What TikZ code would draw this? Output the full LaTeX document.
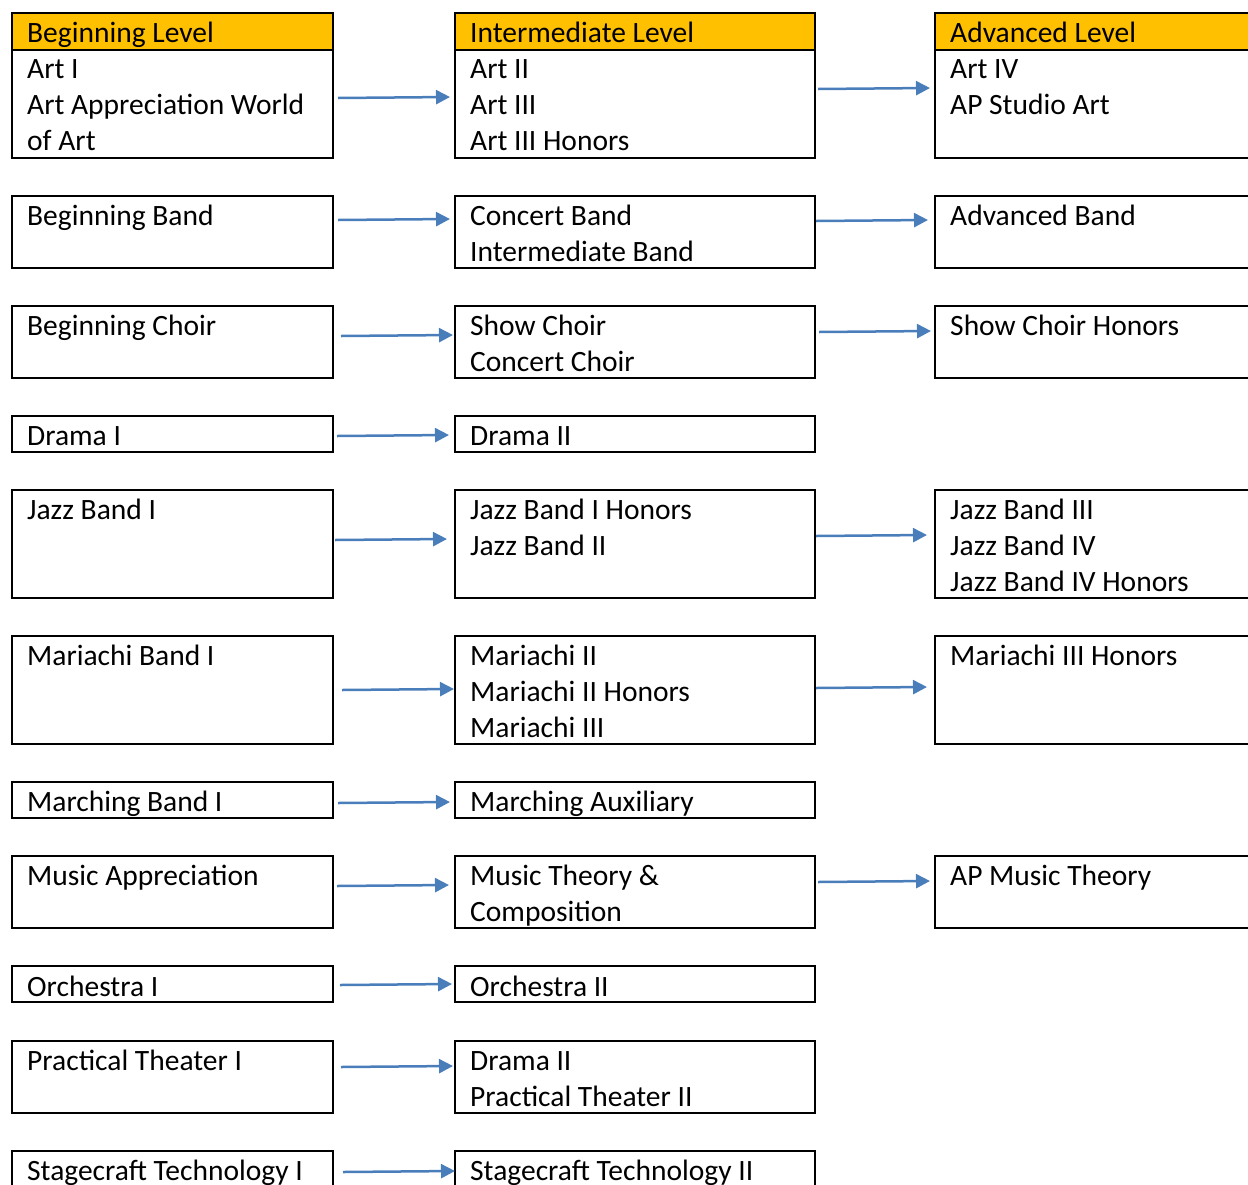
\documentclass[tikz,border=0pt]{standalone}
\usepackage{fontspec}
\setmainfont{Carlito}
\usetikzlibrary{arrows.meta}
\definecolor{hdr}{HTML}{FFC000}
\definecolor{arr}{HTML}{4A7EBB}
\newcommand\tline[4]{\node[txt] (#1) at (#2,#3) {#4};}
\newcommand\cbox[6][box]{\node[#1, minimum width=#5pt, minimum height=#6pt] (#2) at (#3,#4) {};}
\begin{document}
\begin{tikzpicture}[x=1pt,y=-1pt,
  box/.style={draw=black, line width=1.8pt, inner sep=0pt, outer sep=0pt, anchor=north west},
  hdrbox/.style={box, fill=hdr},
  txt/.style={anchor=base west, inner sep=0pt, font=\fontsize{29.5}{36}\selectfont},
  conn/.style={draw=arr, line width=2.5pt, -{Triangle[length=14pt,width=14pt]}}]
\useasboundingbox (0,0) rectangle (1248,1184);
\clip (0,0) rectangle (1248,1184);
% row 1
\cbox{r1a}{12}{13}{321}{145}
\cbox{r1b}{455}{13}{360}{145}
\cbox{r1c}{935}{13}{325}{145}
\cbox[hdrbox]{h1a}{12}{13}{321}{37}
\cbox[hdrbox]{h1b}{455}{13}{360}{37}
\cbox[hdrbox]{h1c}{935}{13}{325}{37}
\tline{t1h}{27}{42}{Beginning Level}
\tline{t1a}{27}{78}{Art I}
\tline{t1b}{27}{114}{Art Appreciation World}
\tline{t1c}{27}{150}{of Art}
\tline{t2h}{470}{42}{Intermediate Level}
\tline{t2a}{470}{78}{Art II}
\tline{t2b}{470}{114}{Art III}
\tline{t2c}{470}{150}{Art III Honors}
\tline{t3h}{950}{42}{Advanced Level}
\tline{t3a}{950}{78}{Art IV}
\tline{t3b}{950}{114}{AP Studio Art}
% row 2
\cbox{r2a}{12}{196}{321}{72}
\cbox{r2b}{455}{196}{360}{72}
\cbox{r2c}{935}{196}{325}{72}
\tline{u1}{27}{225}{Beginning Band}
\tline{u2}{470}{225}{Concert Band}
\tline{u3}{470}{261}{Intermediate Band}
\tline{u4}{950}{225}{Advanced Band}
% row 3
\cbox{r3a}{12}{306}{321}{72}
\cbox{r3b}{455}{306}{360}{72}
\cbox{r3c}{935}{306}{325}{72}
\tline{v1}{27}{335}{Beginning Choir}
\tline{v2}{470}{335}{Show Choir}
\tline{v3}{470}{371}{Concert Choir}
\tline{v4}{950}{335}{Show Choir Honors}
% row 4
\cbox{r4a}{12}{416}{321}{36}
\cbox{r4b}{455}{416}{360}{36}
\tline{w1}{27}{445}{Drama I}
\tline{w2}{470}{445}{Drama II}
% row 5
\cbox{r5a}{12}{490}{321}{108}
\cbox{r5b}{455}{490}{360}{108}
\cbox{r5c}{935}{490}{325}{108}
\tline{x1}{27}{519}{Jazz Band I}
\tline{x2}{470}{519}{Jazz Band I Honors}
\tline{x3}{470}{555}{Jazz Band II}
\tline{x4}{950}{519}{Jazz Band III}
\tline{x5}{950}{555}{Jazz Band IV}
\tline{x6}{950}{591}{Jazz Band IV Honors}
% row 6
\cbox{r6a}{12}{636}{321}{108}
\cbox{r6b}{455}{636}{360}{108}
\cbox{r6c}{935}{636}{325}{108}
\tline{y1}{27}{665}{Mariachi Band I}
\tline{y2}{470}{665}{Mariachi II}
\tline{y3}{470}{701}{Mariachi II Honors}
\tline{y4}{470}{737}{Mariachi III}
\tline{y5}{950}{665}{Mariachi III Honors}
% row 7
\cbox{r7a}{12}{782}{321}{36}
\cbox{r7b}{455}{782}{360}{36}
\tline{z1}{27}{811}{Marching Band I}
\tline{z2}{470}{811}{Marching Auxiliary}
% row 8
\cbox{r8a}{12}{856}{321}{72}
\cbox{r8b}{455}{856}{360}{72}
\cbox{r8c}{935}{856}{325}{72}
\tline{m1}{27}{885}{Music Appreciation}
\tline{m2}{470}{885}{Music Theory \&}
\tline{m3}{470}{921}{Composition}
\tline{m4}{950}{885}{AP Music Theory}
% row 9
\cbox{r9a}{12}{966}{321}{36}
\cbox{r9b}{455}{966}{360}{36}
\tline{o1}{27}{996}{Orchestra I}
\tline{o2}{470}{996}{Orchestra II}
% row 10
\cbox{r10a}{12}{1041}{321}{72}
\cbox{r10b}{455}{1041}{360}{72}
\tline{p1}{27}{1070}{Practical Theater I}
\tline{p2}{470}{1070}{Drama II}
\tline{p3}{470}{1106}{Practical Theater II}
% row 11
\cbox{r11a}{12}{1151}{321}{60}
\cbox{r11b}{455}{1151}{360}{60}
\tline{s1}{27}{1180}{Stagecraft Technology I}
\tline{s2}{470}{1180}{Stagecraft Technology II}
% connectors
\coordinate (a1s) at (338,98);  \coordinate (a1e) at (450,97);
\coordinate (a2s) at (818,89);  \coordinate (a2e) at (930,88);
\coordinate (b1s) at (338,220); \coordinate (b1e) at (450,219);
\coordinate (b2s) at (816,221); \coordinate (b2e) at (928,220);
\coordinate (c1s) at (341,336); \coordinate (c1e) at (453,335);
\coordinate (c2s) at (819,332); \coordinate (c2e) at (931,331);
\coordinate (d1s) at (337,436); \coordinate (d1e) at (449,435);
\coordinate (e1s) at (335,540); \coordinate (e1e) at (447,539);
\coordinate (e2s) at (816,536); \coordinate (e2e) at (927,535);
\coordinate (f1s) at (342,690); \coordinate (f1e) at (454,689);
\coordinate (f2s) at (816,688); \coordinate (f2e) at (927,687);
\coordinate (g1s) at (338,803); \coordinate (g1e) at (450,802);
\coordinate (h1s) at (337,886); \coordinate (h1e) at (449,885);
\coordinate (h2s) at (818,882); \coordinate (h2e) at (930,881);
\coordinate (i1s) at (340,985); \coordinate (i1e) at (452,984);
\coordinate (j1s) at (341,1067); \coordinate (j1e) at (453,1066);
\coordinate (k1s) at (343,1172); \coordinate (k1e) at (455,1171);
\foreach \n in {a1,a2,b1,b2,c1,c2,d1,e1,e2,f1,f2,g1,h1,h2,i1,j1,k1}
  \draw[conn] (\n s) -- (\n e);
\end{tikzpicture}
\end{document}
